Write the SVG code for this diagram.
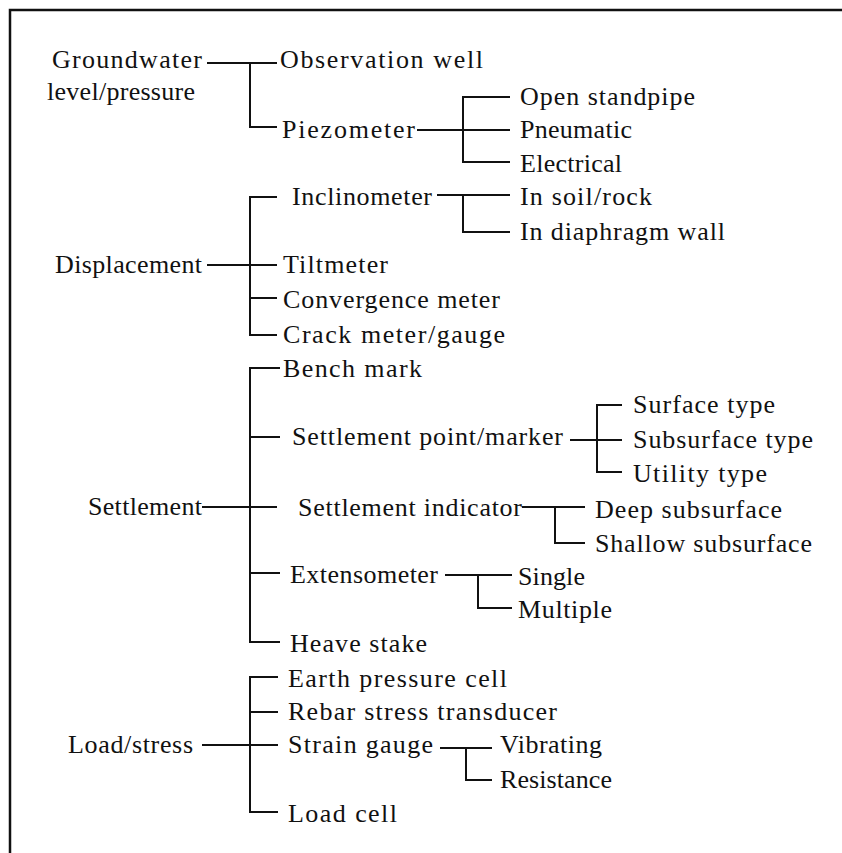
<svg xmlns="http://www.w3.org/2000/svg" width="842" height="853" viewBox="0 0 842 853">
<style>
.t text{font-size:26px;fill:#111}
.c{fill:none;stroke:#111;stroke-width:2}
.b{fill:none;stroke:#111;stroke-width:2.5}
</style>
<rect width="842" height="853" fill="#fff"/>
<path class="b" d="M10,853 V10 H842"/>
<g class="t" font-family="'Liberation Serif', 'DejaVu Serif', 'Times New Roman', serif">
<g id="n-groundwater"><text x="52" y="68" textLength="150" lengthAdjust="spacing">Groundwater</text><text x="47" y="100" textLength="148" lengthAdjust="spacing">level/pressure</text></g>
<g id="n-observation"><text x="280" y="68" textLength="203" lengthAdjust="spacing">Observation  well</text></g>
<g id="n-piezometer"><text x="282" y="138" textLength="133" lengthAdjust="spacing">Piezometer</text></g>
<g id="n-openstandpipe"><text x="520" y="105" textLength="175" lengthAdjust="spacing">Open  standpipe</text></g>
<g id="n-pneumatic"><text x="520" y="138" textLength="112" lengthAdjust="spacing">Pneumatic</text></g>
<g id="n-electrical"><text x="520" y="172" textLength="102" lengthAdjust="spacing">Electrical</text></g>
<g id="n-displacement"><text x="55" y="273" textLength="147" lengthAdjust="spacing">Displacement</text></g>
<g id="n-inclinometer"><text x="292" y="205" textLength="140" lengthAdjust="spacing">Inclinometer</text></g>
<g id="n-soilrock"><text x="520" y="205" textLength="132" lengthAdjust="spacing">In  soil/rock</text></g>
<g id="n-diaphragm"><text x="520" y="240" textLength="205" lengthAdjust="spacing">In  diaphragm wall</text></g>
<g id="n-tiltmeter"><text x="283" y="273" textLength="105" lengthAdjust="spacing">Tiltmeter</text></g>
<g id="n-convergence"><text x="283" y="308" textLength="217" lengthAdjust="spacing">Convergence meter</text></g>
<g id="n-crack"><text x="283" y="343" textLength="222" lengthAdjust="spacing">Crack  meter/gauge</text></g>
<g id="n-settlement"><text x="88" y="515" textLength="114" lengthAdjust="spacing">Settlement</text></g>
<g id="n-benchmark"><text x="283" y="377" textLength="139" lengthAdjust="spacing">Bench mark</text></g>
<g id="n-settlementpoint"><text x="292" y="445" textLength="271" lengthAdjust="spacing">Settlement  point/marker</text></g>
<g id="n-surface"><text x="633" y="413" textLength="142" lengthAdjust="spacing">Surface  type</text></g>
<g id="n-subsurface"><text x="633" y="448" textLength="180" lengthAdjust="spacing">Subsurface  type</text></g>
<g id="n-utility"><text x="633" y="482" textLength="134" lengthAdjust="spacing">Utility  type</text></g>
<g id="n-indicator"><text x="298" y="516" textLength="224" lengthAdjust="spacing">Settlement  indicator</text></g>
<g id="n-deep"><text x="595" y="518" textLength="187" lengthAdjust="spacing">Deep  subsurface</text></g>
<g id="n-shallow"><text x="595" y="552" textLength="217" lengthAdjust="spacing">Shallow  subsurface</text></g>
<g id="n-extensometer"><text x="290" y="583" textLength="148" lengthAdjust="spacing">Extensometer</text></g>
<g id="n-single"><text x="518" y="585" textLength="67" lengthAdjust="spacing">Single</text></g>
<g id="n-multiple"><text x="518" y="618" textLength="94" lengthAdjust="spacing">Multiple</text></g>
<g id="n-heave"><text x="290" y="652" textLength="137" lengthAdjust="spacing">Heave  stake</text></g>
<g id="n-load"><text x="68" y="753" textLength="125" lengthAdjust="spacing">Load/stress</text></g>
<g id="n-earth"><text x="288" y="687" textLength="219" lengthAdjust="spacing">Earth  pressure  cell</text></g>
<g id="n-rebar"><text x="288" y="720" textLength="269" lengthAdjust="spacing">Rebar  stress  transducer</text></g>
<g id="n-strain"><text x="288" y="753" textLength="145" lengthAdjust="spacing">Strain  gauge</text></g>
<g id="n-vibrating"><text x="500" y="753" textLength="102" lengthAdjust="spacing">Vibrating</text></g>
<g id="n-resistance"><text x="500" y="788" textLength="112" lengthAdjust="spacing">Resistance</text></g>
<g id="n-loadcell"><text x="288" y="822" textLength="109" lengthAdjust="spacing">Load  cell</text></g>
</g>
<g id="connectors">
<path class="c" d="M207,63 H277 M250,63 V127 H277"/>
<path class="c" d="M417,130 H510 M510,97 H463 V162 H510"/>
<path class="c" d="M207,265 H277 M277,197 H250 V335 H277 M250,298 H277"/>
<path class="c" d="M437,195 H510 M463,195 V232 H510"/>
<path class="c" d="M280,368 H250 V642 H280 M250,437 H280 M202,507 H277 M250,573 H280"/>
<path class="c" d="M570,440 H622 M622,405 H597 V472 H622"/>
<path class="c" d="M522,507 H585 M555,507 V543 H585"/>
<path class="c" d="M445,575 H512 M478,575 V608 H512"/>
<path class="c" d="M278,677 H250 V812 H278 M250,712 H278 M202,745 H278"/>
<path class="c" d="M440,748 H492 M466,748 V780 H492"/>
</g>
</svg>
